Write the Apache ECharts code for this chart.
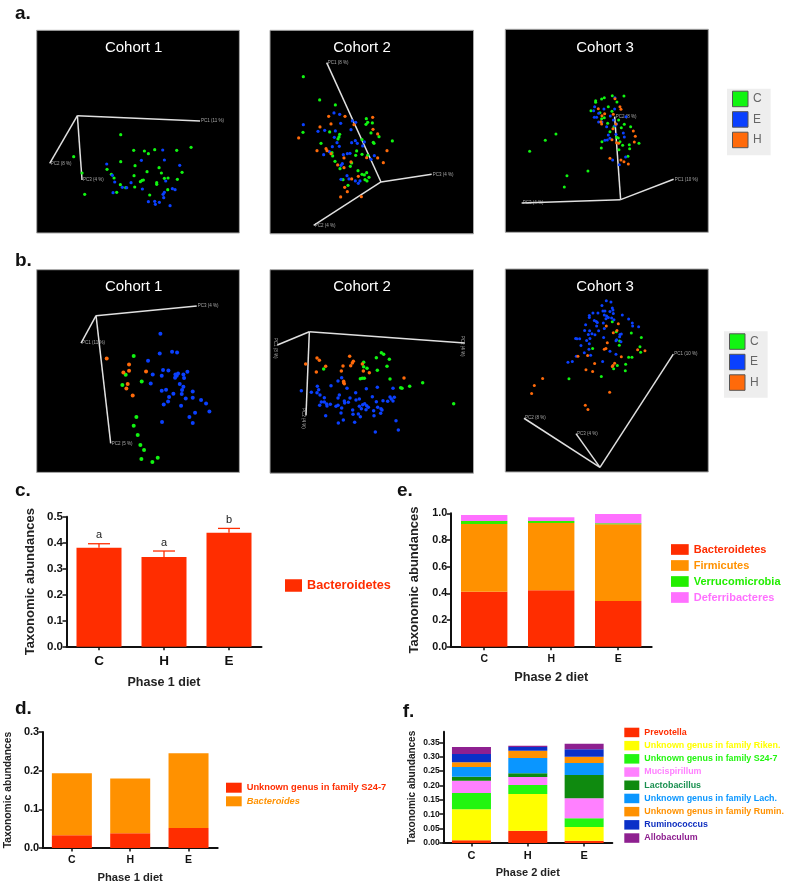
<!DOCTYPE html>
<html><head><meta charset="utf-8">
<style>html,body{margin:0;padding:0;background:#fff}#c{width:787px;height:885px;filter:blur(0.45px)}</style>
<script src="https://cdn.jsdelivr.net/npm/echarts@6/dist/echarts.min.js"></script>
</head><body><div id="c"></div>
<script>
// Ordination scores (arbitrary PCoA plot units, y grows downward)
const a1_C=[[362,404],[401,451],[433,453],[445,461],[464,449],[530,451],[573,442],[221,470],[362,485],[405,497],[321,508],[246,519],[334,523],[342,534],[402,527],[441,515],[477,503],[484,519],[546,517],[532,538],[504,534],[493,535],[470,548],[470,553],[430,540],[426,541],[421,545],[361,554],[377,563],[404,561],[350,577],[254,583],[449,585],[503,569]];
const a1_E=[[488,450],[424,481],[493,480],[320,492],[539,496],[337,526],[344,546],[393,548],[497,543],[367,562],[380,563],[427,567],[493,577],[517,566],[525,569],[489,583],[445,605],[464,604],[466,613],[478,607],[491,593],[510,617],[339,578]];
const a1_H=[];
const a2_C=[[100,139],[149,209],[196,224],[289,265],[293,276],[307,278],[288,282],[99,306],[179,305],[303,308],[327,319],[209,312],[207,320],[204,326],[367,332],[153,339],[276,328],[310,336],[312,339],[260,362],[257,375],[276,372],[186,367],[188,377],[293,375],[195,393],[245,398],[210,415],[241,408],[264,421],[276,432],[283,434],[290,427],[297,441],[285,448],[291,452],[219,448],[234,465]];
const a2_E=[[192,248],[209,252],[247,272],[257,276],[212,279],[100,283],[243,298],[144,303],[164,300],[196,302],[193,321],[201,337],[256,331],[262,339],[283,335],[278,347],[245,337],[208,348],[187,349],[178,364],[161,373],[220,373],[232,370],[240,369],[313,376],[303,387],[213,405],[217,400],[231,436],[237,446],[213,447],[256,452],[265,459],[270,452]];
const a2_H=[[176,258],[225,258],[308,261],[183,281],[252,283],[150,290],[309,297],[323,311],[86,323],[168,355],[171,361],[141,361],[351,361],[183,370],[222,383],[290,382],[323,383],[340,397],[203,404],[243,395],[222,412],[265,438],[245,446],[224,471],[232,484],[212,500],[274,499]];
const a3_C=[[637,287],[672,288],[613,293],[605,297],[587,302],[587,307],[651,306],[625,320],[573,332],[636,334],[600,338],[613,353],[605,356],[623,370],[656,360],[673,373],[692,380],[664,383],[630,395],[642,380],[650,412],[655,414],[606,425],[660,425],[668,436],[688,434],[689,446],[717,430],[657,449],[604,444],[684,469],[468,402],[436,421],[389,454],[564,513],[501,527],[493,561]];
const a3_E=[[645,293],[612,327],[584,320],[581,332],[644,327],[596,340],[590,352],[583,352],[631,348],[678,350],[596,366],[640,360],[620,380],[645,377],[648,403],[670,399],[673,411],[625,405],[622,420],[615,421],[630,415],[658,494],[638,480],[677,471],[650,372],[606,366]];
const a3_H=[[645,296],[660,320],[663,328],[595,326],[614,341],[640,343],[606,347],[603,365],[605,372],[648,372],[639,386],[700,393],[706,409],[703,426],[650,428],[656,430],[636,419],[630,475],[663,480],[672,485],[685,492]];
const b1_C=[[401,333],[377,389],[425,409],[367,420],[409,516],[401,542],[413,570],[421,600],[432,615],[424,642],[457,651],[473,638]];
const b1_E=[[481,266],[479,325],[516,320],[531,322],[444,347],[489,375],[505,376],[458,388],[485,392],[534,385],[526,388],[525,398],[530,392],[550,388],[562,380],[552,399],[452,415],[539,417],[550,425],[546,435],[545,447],[485,437],[498,434],[520,446],[578,439],[578,458],[507,456],[504,469],[491,478],[557,460],[543,482],[603,465],[618,475],[628,499],[585,503],[568,516],[578,534],[486,531]];
const b1_H=[[320,340],[387,358],[387,377],[370,382],[383,417],[379,430],[398,451],[438,379]];
const b2_C=[[334,249],[341,254],[319,264],[358,269],[281,278],[351,290],[281,291],[291,296],[322,302],[161,298],[271,327],[277,326],[283,326],[360,328],[392,354],[396,356],[419,350],[458,339],[551,402]];
const b2_E=[[94,363],[215,324],[204,334],[183,348],[142,350],[146,360],[124,368],[141,369],[150,376],[231,356],[289,357],[322,353],[369,356],[257,369],[208,376],[204,385],[163,384],[307,381],[373,383],[360,382],[364,388],[369,394],[353,395],[339,393],[319,396],[268,388],[258,391],[240,385],[235,398],[223,394],[224,400],[204,407],[154,397],[163,397],[149,407],[170,403],[171,409],[181,404],[198,410],[215,415],[213,430],[167,438],[220,451],[205,460],[254,458],[248,421],[249,434],[265,433],[271,441],[278,405],[268,410],[274,417],[284,402],[290,408],[295,413],[288,420],[323,413],[333,417],[336,421],[311,423],[332,431],[312,438],[378,453],[385,481],[316,487]];
const b2_H=[[141,265],[148,272],[107,283],[167,290],[139,307],[239,260],[250,275],[247,280],[242,288],[219,289],[214,304],[277,283],[280,304],[298,309],[221,335],[223,342],[402,325],[221,339]];
const b3_C=[[637,230],[649,260],[694,264],[724,277],[659,288],[658,300],[578,310],[720,305],[722,321],[686,336],[696,336],[652,361],[677,357],[641,371],[676,377],[507,401],[604,394]];
const b3_E=[[619,167],[633,171],[606,181],[637,189],[639,195],[609,198],[615,198],[630,199],[568,211],[579,204],[594,204],[640,205],[568,217],[613,210],[620,213],[625,217],[618,221],[635,219],[642,224],[667,210],[686,222],[697,234],[698,243],[716,245],[583,226],[589,229],[592,232],[610,234],[557,239],[590,243],[554,256],[569,257],[596,257],[576,266],[585,269],[565,268],[613,250],[527,280],[539,281],[531,281],[560,286],[570,280],[568,296],[543,301],[611,277],[660,268],[664,267],[659,275],[650,284],[663,290],[648,287],[567,312],[553,323],[630,318],[648,327],[529,333],[517,349],[504,351],[572,330],[608,349]];
const b3_H=[[619,243],[655,236],[651,256],[640,263],[622,293],[613,312],[618,310],[664,335],[534,333],[563,331],[584,355],[558,374],[578,379],[639,361],[644,354],[637,364],[713,314],[735,317],[428,400],[403,421],[395,445],[629,441],[556,480],[564,493]];
// PC axes of each ordination: origin, then the axis ends, with their labels
const a1_origin=[232,347], a1_ends=[[600,363],[149,490],[246,540]], a1_labels=['PC1 (11 %)','PC2 (8 %)','PC3 (4 %)'];
const a2_origin=[333,455], a2_ends=[[170,97],[131,585],[485,432]], a2_labels=['PC1 (8 %)','PC2 (4 %)','PC3 (4 %)'];
const a3_origin=[662,599], a3_ends=[[821,538],[644,350],[365,609]], a3_labels=['PC1 (10 %)','PC2 (8 %)','PC3 (4 %)'];
const b1_origin=[288,212], b1_ends=[[243,294],[332,595],[590,183]], b1_labels=['PC1 (11 %)','PC2 (5 %)','PC3 (4 %)'];
const b2_origin=[118,186], b2_ends=[[22,226],[108,437],[584,220]], b2_labels=['PC1 (8 %)','PC2 (4 %)','PC3 (4 %)'];
const b3_origin=[600,666], b3_ends=[[820,327],[372,519],[528,565]], b3_labels=['PC1 (10 %)','PC2 (8 %)','PC3 (4 %)'];
// Bar panels
const dietCategories=['C','H','E'];
const cBacteroidetes=[0.381,0.345,0.438];
const cErrorTop=[0.396,0.368,0.455];
const cLetters=['a','a','b'];
const dS24=[0.033,0.038,0.052];
const dBacteroides=[0.160,0.142,0.193];
const eBacteroidetes=[0.4125,0.4225,0.3425];
const eFirmicutes=[0.507,0.505,0.575];
const eVerrucomicrobia=[0.0225,0.015,0.0075];
const eDeferribacteres=[0.045,0.0275,0.07];
const fPrevotella=[0.0093,0.0429,0.0081];
const fRiken=[0.1078,0.1274,0.0475];
const fS24=[0.0568,0.0313,0.0301];
const fMucispirillum=[0.0429,0.0278,0.0696];
const fLactobacillus=[0.0139,0.0128,0.0811];
const fLach=[0.0336,0.0533,0.0417];
const fRumin=[0.0162,0.0255,0.022];
const fRuminococcus=[0.029,0.0127,0.0255];
const fAllobaculum=[0.0243,0.0047,0.0197];
const fTicks=[0,0.05,0.10,0.15,0.20,0.25,0.30,0.35];

const FONT='"Liberation Sans",Arial,sans-serif';
const RED='#ff2d00',ORANGE='#ff9100',GREEN='#11f511',BLUE='#0a40ff',DOT_ORANGE='#ff6a0a';
const grid=[],xAxis=[],yAxis=[],series=[],title=[],legend=[];

function ordination(box,win,C,E,H,origin,ends,labels,size,rot){
  const i=grid.length;
  grid.push({left:box[0],top:box[1],width:box[2],height:box[3],show:true,backgroundColor:'#000',borderColor:'#a8a8a8',borderWidth:1});
  xAxis.push({gridIndex:i,type:'value',min:win[0],max:win[1],show:false});
  yAxis.push({gridIndex:i,type:'value',min:win[2],max:win[3],inverse:true,show:false});
  ends.forEach((e,k)=>{
    series.push({type:'line',xAxisIndex:i,yAxisIndex:i,data:[origin,e],symbol:'none',silent:true,z:2,clip:false,
      lineStyle:{color:'#e0e0e0',width:1.5}});
    series.push({type:'scatter',xAxisIndex:i,yAxisIndex:i,data:[e],symbolSize:0,silent:true,z:3,clip:false,
      labelLayout:{hideOverlap:false},
      label:{show:true,formatter:labels[k],color:'#d0d0d0',fontSize:4.5,fontFamily:FONT,
        position:rot?'bottom':'right',distance:rot?3:1,rotate:rot?-90:0,offset:rot?[0,15]:[0,2]}});
  });
  [['C',C,GREEN],['E',E,BLUE],['H',H,DOT_ORANGE]].forEach(s=>{
    series.push({type:'scatter',name:s[0],xAxisIndex:i,yAxisIndex:i,data:s[1],symbolSize:size,z:4,
      itemStyle:{color:s[2],opacity:1}});
  });
}
ordination([36.7,30.3,202.7,202.7],[110,718,91,699],a1_C,a1_E,a1_H,a1_origin,a1_ends,a1_labels,3.2);
ordination([270,30.3,203.5,203.5],[0,610.5,0,610.5],a2_C,a2_E,a2_H,a2_origin,a2_ends,a2_labels,3.2);
ordination([505.3,29.3,203,203],[316,925,88,697],a3_C,a3_E,a3_H,a3_origin,a3_ends,a3_labels,3);
ordination([36.7,269.7,202.7,202.7],[110,718,74,682],b1_C,b1_E,b1_H,b1_origin,b1_ends,b1_labels,4);
ordination([270,269.7,203.5,203.5],[0,610.5,0,610.5],b2_C,b2_E,b2_H,b2_origin,b2_ends,b2_labels,3.5,true);
ordination([505.3,269,203,203],[316,925,72,680],b3_C,b3_E,b3_H,b3_origin,b3_ends,b3_labels,3);

function barGrid(box,yOpt,yName,xName,xFont,yFont,nameFont,yNameFont,nameGaps,decimals,xMargin){
  const i=grid.length;
  grid.push({left:box[0],top:box[1],width:box[2],height:box[3]});
  const axisLine={show:true,lineStyle:{color:'#111',width:2}};
  xAxis.push({gridIndex:i,type:'category',data:dietCategories,name:xName,nameLocation:'middle',nameGap:nameGaps[0],
    nameTextStyle:{fontFamily:FONT,fontWeight:'bold',fontSize:nameFont,color:'#222'},
    axisLine,axisTick:{show:true,alignWithLabel:true,length:3.5,lineStyle:{color:'#111',width:1.5}},
    axisLabel:{fontFamily:FONT,fontWeight:'bold',fontSize:xFont,color:'#111',margin:xMargin,interval:0}});
  yAxis.push(Object.assign({gridIndex:i,type:'value',min:0,name:yName,nameLocation:'middle',nameGap:nameGaps[1],
    nameTextStyle:{fontFamily:FONT,fontWeight:'bold',fontSize:yNameFont,color:'#222'},
    splitLine:{show:false},axisLine,axisTick:{show:true,length:4,lineStyle:{color:'#111',width:1.5}}},yOpt,{
    axisLabel:Object.assign({fontFamily:FONT,fontWeight:'bold',fontSize:yFont,color:'#111',margin:3.5,
      formatter:v=>v.toFixed(decimals)},yOpt.axisLabel||{})}));
  return i;
}
function stacked(i,name,data,color,width){
  series.push({type:'bar',name,xAxisIndex:i,yAxisIndex:i,stack:'g'+i,data,barWidth:width,itemStyle:{color},z:2});
}
function legendBlock(left,top,itemW,itemH,gap,fontSize,items){
  legend.push({left,top,orient:'vertical',padding:0,itemWidth:itemW,itemHeight:itemH,itemGap:gap,selectedMode:false,
    icon:'rect',textStyle:{fontFamily:FONT,fontWeight:'bold',fontSize},
    data:items.map(it=>({name:it[0],icon:'rect',itemStyle:{color:it[1]},
      textStyle:{color:it[2]||it[1],fontStyle:it[3]||'normal',fontFamily:FONT,fontWeight:'bold',fontSize}}))});
}

// panel c
const ci=barGrid([66.5,516.7,195,130],{max:0.5,interval:0.1},'Taxonomic abundances','Phase 1 diet',13.5,11.5,12.5,13,[29,29.5],1,8);
stacked(ci,'Bacteroidetes',cBacteroidetes,RED,45);
series.push({type:'custom',xAxisIndex:ci,yAxisIndex:ci,z:1,silent:true,
  data:cErrorTop.map((t,k)=>[k,cBacteroidetes[k],t]),
  encode:{x:0,y:2},
  renderItem(p,api){
    const b=api.coord([api.value(0),api.value(1)]),t=api.coord([api.value(0),api.value(2)]);
    const st={stroke:RED,lineWidth:1.3};
    return {type:'group',children:[
      {type:'line',shape:{x1:b[0],y1:b[1],x2:t[0],y2:t[1]},style:st},
      {type:'line',shape:{x1:t[0]-11,y1:t[1],x2:t[0]+11,y2:t[1]},style:st},
      {type:'text',style:{text:cLetters[p.dataIndex],x:t[0],y:t[1]-3,align:'center',verticalAlign:'bottom',fontFamily:FONT,fontSize:11,fill:'#222'}}
    ]};
  }});
legendBlock(285,579,17,12.5,0,12.7,[['Bacteroidetes',RED]]);

// panel d
const di=barGrid([42.7,732,175,116],{max:0.3,interval:0.1},'Taxonomic abundances','Phase 1 diet',10.5,11,11.2,10.3,[24,30],1,7);
stacked(di,'Unknown genus in family S24-7',dS24,RED,40);
stacked(di,'Bacteroides',dBacteroides,ORANGE,40);
legendBlock(226,782.7,15.7,10,3.6,9.3,[['Unknown genus in family S24-7',RED],['Bacteroides',ORANGE,ORANGE,'italic']]);

// panel e
const ei=barGrid([450.7,513.3,201,133.4],{max:1,interval:0.2},'Taxonomic abundances','Phase 2 diet',10.5,10.8,12.7,13,[24.5,30],1,7);
stacked(ei,'Bacteroidetes',eBacteroidetes,RED,46.4);
stacked(ei,'Firmicutes',eFirmicutes,ORANGE,46.4);
stacked(ei,'Verrucomicrobia',eVerrucomicrobia,'#33ee00',46.4);
stacked(ei,'Deferribacteres',eDeferribacteres,'#ff70ff',46.4);
legendBlock(671,544,17.7,10.7,5,11,[['Bacteroidetes',RED],['Firmicutes',ORANGE],['Verrucomicrobia','#22ee00'],['Deferribacteres','#ff70ff']]);

// panel f
const fi=barGrid([443.3,731.7,169,111.3],{max:0.387,axisTick:{show:true,length:4,customValues:fTicks,lineStyle:{color:'#111',width:1.5}},axisLabel:{customValues:fTicks}},'Taxonomic abundances','Phase 2 diet',11,8.5,11,10,[24,26],2,7);
const fSeries=[['Prevotella',fPrevotella,RED,RED],['Unknown genus in family Riken.',fRiken,'#ffff00','#ffff00'],['Unknown genus in family S24-7',fS24,'#22f510','#22f510'],['Mucispirillum',fMucispirillum,'#ff80ff','#ff80ff'],['Lactobacillus',fLactobacillus,'#0f8a0f','#1a9050'],['Unknown genus in family Lach.',fLach,'#0a96ff','#0a96ff'],['Unknown genus in family Rumin.',fRumin,ORANGE,ORANGE],['Ruminococcus',fRuminococcus,'#0a30c8','#1030c0'],['Allobaculum',fAllobaculum,'#8e2090','#8e2090']];
fSeries.forEach(s=>stacked(fi,s[0],s[1],s[2],39));
legendBlock(624.3,727.7,15,9.5,3.7,8.9,fSeries.map(s=>[s[0],s[2],s[3]]));

// group legends of a. and b.
[[727,88.7],[724,331.3]].forEach(p=>{
  legend.push({left:p[0],top:p[1],orient:'vertical',padding:[2,9,7,5],backgroundColor:'#eeeeee',itemWidth:15.5,itemHeight:15.5,itemGap:4,selectedMode:false,
    textStyle:{fontFamily:FONT,fontSize:12,color:'#666'},
    data:[['C',GREEN],['E',BLUE],['H',DOT_ORANGE]].map(d=>({name:d[0],icon:'rect',itemStyle:{color:d[1],borderColor:'#555',borderWidth:1}}))});
});

// titles
[[133.7,'Cohort 1',40],[362,'Cohort 2',40],[605,'Cohort 3',40],[133.7,'Cohort 1',279.5],[362,'Cohort 2',279.5],[605,'Cohort 3',279.5]].forEach(t=>{
  title.push({text:t[1],left:t[0],top:t[2],textAlign:'center',padding:0,textStyle:{fontFamily:FONT,fontSize:15,fontWeight:'normal',color:'#fff'}});
});
[['a.',15,4],['b.',15,251],['c.',15,481],['d.',15,699],['e.',397,481],['f.',402.7,702]].forEach(t=>{
  title.push({text:t[0],left:t[1],top:t[2],padding:0,textStyle:{fontFamily:FONT,fontSize:19,fontWeight:'bold',color:'#111'}});
});

const chart=echarts.init(document.getElementById('c'),null,{renderer:'canvas'});
chart.setOption({animation:false,backgroundColor:'#fff',title,grid,xAxis,yAxis,legend,series,tooltip:{show:false}});
</script></body></html>
